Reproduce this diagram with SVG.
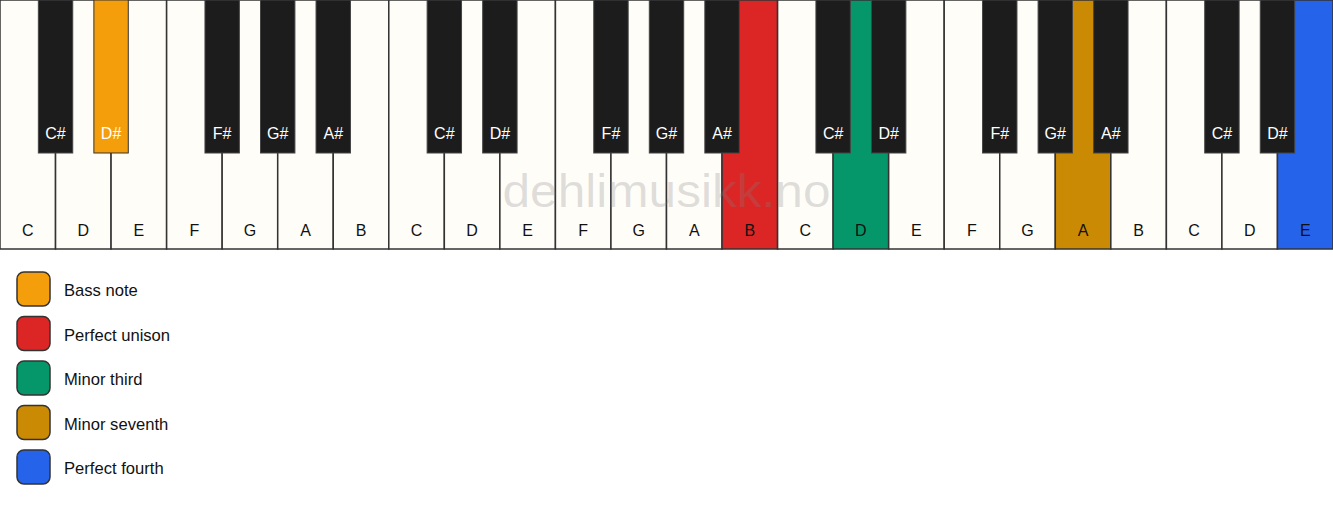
<svg xmlns="http://www.w3.org/2000/svg" width="1333" height="506" viewBox="0 0 1333 506">
<style>
.w{fill:#fffdf8;stroke:#333;stroke-width:1.5}
.b{fill:#1c1c1c;stroke:#444;stroke-width:1}
.wl{font-family:"Liberation Sans",Arial,sans-serif;font-size:16px;fill:#111;text-anchor:middle}
.bl{font-family:"Liberation Sans",Arial,sans-serif;font-size:16px;fill:#fff;text-anchor:middle}
.lg{stroke:#333;stroke-width:1.5}
.lt{font-family:"Liberation Sans",Arial,sans-serif;font-size:16.6px;fill:#111}
.wm{font-family:"Liberation Sans",Arial,sans-serif;font-size:46px;fill:#808080;fill-opacity:0.25;text-anchor:middle}
</style>
<rect width="1333" height="506" fill="#ffffff"/>
<g id="white-keys">
<g id="w0"><rect class="w" x="0" y="0" width="55.54" height="249"/><text class="wl" x="27.77" y="236">C</text></g>
<g id="w1"><rect class="w" x="55.54" y="0" width="55.54" height="249"/><text class="wl" x="83.31" y="236">D</text></g>
<g id="w2"><rect class="w" x="111.08" y="0" width="55.54" height="249"/><text class="wl" x="138.85" y="236">E</text></g>
<g id="w3"><rect class="w" x="166.63" y="0" width="55.54" height="249"/><text class="wl" x="194.4" y="236">F</text></g>
<g id="w4"><rect class="w" x="222.17" y="0" width="55.54" height="249"/><text class="wl" x="249.94" y="236">G</text></g>
<g id="w5"><rect class="w" x="277.71" y="0" width="55.54" height="249"/><text class="wl" x="305.48" y="236">A</text></g>
<g id="w6"><rect class="w" x="333.25" y="0" width="55.54" height="249"/><text class="wl" x="361.02" y="236">B</text></g>
<g id="w7"><rect class="w" x="388.79" y="0" width="55.54" height="249"/><text class="wl" x="416.56" y="236">C</text></g>
<g id="w8"><rect class="w" x="444.33" y="0" width="55.54" height="249"/><text class="wl" x="472.1" y="236">D</text></g>
<g id="w9"><rect class="w" x="499.88" y="0" width="55.54" height="249"/><text class="wl" x="527.65" y="236">E</text></g>
<g id="w10"><rect class="w" x="555.42" y="0" width="55.54" height="249"/><text class="wl" x="583.19" y="236">F</text></g>
<g id="w11"><rect class="w" x="610.96" y="0" width="55.54" height="249"/><text class="wl" x="638.73" y="236">G</text></g>
<g id="w12"><rect class="w" x="666.5" y="0" width="55.54" height="249"/><text class="wl" x="694.27" y="236">A</text></g>
<g id="w13"><rect class="w" x="722.04" y="0" width="55.54" height="249" style="fill:#dc2626"/><text class="wl" x="749.81" y="236">B</text></g>
<g id="w14"><rect class="w" x="777.58" y="0" width="55.54" height="249"/><text class="wl" x="805.35" y="236">C</text></g>
<g id="w15"><rect class="w" x="833.13" y="0" width="55.54" height="249" style="fill:#05976a"/><text class="wl" x="860.9" y="236">D</text></g>
<g id="w16"><rect class="w" x="888.67" y="0" width="55.54" height="249"/><text class="wl" x="916.44" y="236">E</text></g>
<g id="w17"><rect class="w" x="944.21" y="0" width="55.54" height="249"/><text class="wl" x="971.98" y="236">F</text></g>
<g id="w18"><rect class="w" x="999.75" y="0" width="55.54" height="249"/><text class="wl" x="1027.52" y="236">G</text></g>
<g id="w19"><rect class="w" x="1055.29" y="0" width="55.54" height="249" style="fill:#ca8a04"/><text class="wl" x="1083.06" y="236">A</text></g>
<g id="w20"><rect class="w" x="1110.83" y="0" width="55.54" height="249"/><text class="wl" x="1138.6" y="236">B</text></g>
<g id="w21"><rect class="w" x="1166.38" y="0" width="55.54" height="249"/><text class="wl" x="1194.15" y="236">C</text></g>
<g id="w22"><rect class="w" x="1221.92" y="0" width="55.54" height="249"/><text class="wl" x="1249.69" y="236">D</text></g>
<g id="w23"><rect class="w" x="1277.46" y="0" width="55.54" height="249" style="fill:#2563eb"/><text class="wl" x="1305.23" y="236">E</text></g>
</g>
<g id="black-keys">
<g id="b0"><rect class="b" x="38.34" y="0" width="34.4" height="153"/><text class="bl" x="55.54" y="139">C#</text></g>
<g id="b1"><rect class="b" x="93.88" y="0" width="34.4" height="153" style="fill:#f59e0b;stroke:#333"/><text class="bl" x="111.08" y="139">D#</text></g>
<g id="b2"><rect class="b" x="204.97" y="0" width="34.4" height="153"/><text class="bl" x="222.17" y="139">F#</text></g>
<g id="b3"><rect class="b" x="260.51" y="0" width="34.4" height="153"/><text class="bl" x="277.71" y="139">G#</text></g>
<g id="b4"><rect class="b" x="316.05" y="0" width="34.4" height="153"/><text class="bl" x="333.25" y="139">A#</text></g>
<g id="b5"><rect class="b" x="427.13" y="0" width="34.4" height="153"/><text class="bl" x="444.33" y="139">C#</text></g>
<g id="b6"><rect class="b" x="482.68" y="0" width="34.4" height="153"/><text class="bl" x="499.88" y="139">D#</text></g>
<g id="b7"><rect class="b" x="593.76" y="0" width="34.4" height="153"/><text class="bl" x="610.96" y="139">F#</text></g>
<g id="b8"><rect class="b" x="649.3" y="0" width="34.4" height="153"/><text class="bl" x="666.5" y="139">G#</text></g>
<g id="b9"><rect class="b" x="704.84" y="0" width="34.4" height="153"/><text class="bl" x="722.04" y="139">A#</text></g>
<g id="b10"><rect class="b" x="815.93" y="0" width="34.4" height="153"/><text class="bl" x="833.13" y="139">C#</text></g>
<g id="b11"><rect class="b" x="871.47" y="0" width="34.4" height="153"/><text class="bl" x="888.67" y="139">D#</text></g>
<g id="b12"><rect class="b" x="982.55" y="0" width="34.4" height="153"/><text class="bl" x="999.75" y="139">F#</text></g>
<g id="b13"><rect class="b" x="1038.09" y="0" width="34.4" height="153"/><text class="bl" x="1055.29" y="139">G#</text></g>
<g id="b14"><rect class="b" x="1093.63" y="0" width="34.4" height="153"/><text class="bl" x="1110.83" y="139">A#</text></g>
<g id="b15"><rect class="b" x="1204.72" y="0" width="34.4" height="153"/><text class="bl" x="1221.92" y="139">C#</text></g>
<g id="b16"><rect class="b" x="1260.26" y="0" width="34.4" height="153"/><text class="bl" x="1277.46" y="139">D#</text></g>
</g>
<text class="wm" x="666.5" y="207" textLength="328" lengthAdjust="spacingAndGlyphs">dehlimusikk.no</text>
<g id="legend">
<g id="lg0"><rect class="lg" x="17" y="272" width="33" height="34" rx="7" fill="#f59e0b"/><text class="lt" x="64" y="296">Bass note</text></g>
<g id="lg1"><rect class="lg" x="17" y="316.5" width="33" height="34" rx="7" fill="#dc2626"/><text class="lt" x="64" y="340.5">Perfect unison</text></g>
<g id="lg2"><rect class="lg" x="17" y="361" width="33" height="34" rx="7" fill="#05976a"/><text class="lt" x="64" y="385">Minor third</text></g>
<g id="lg3"><rect class="lg" x="17" y="405.5" width="33" height="34" rx="7" fill="#ca8a04"/><text class="lt" x="64" y="429.5">Minor seventh</text></g>
<g id="lg4"><rect class="lg" x="17" y="450" width="33" height="34" rx="7" fill="#2563eb"/><text class="lt" x="64" y="474">Perfect fourth</text></g>
</g>
</svg>
